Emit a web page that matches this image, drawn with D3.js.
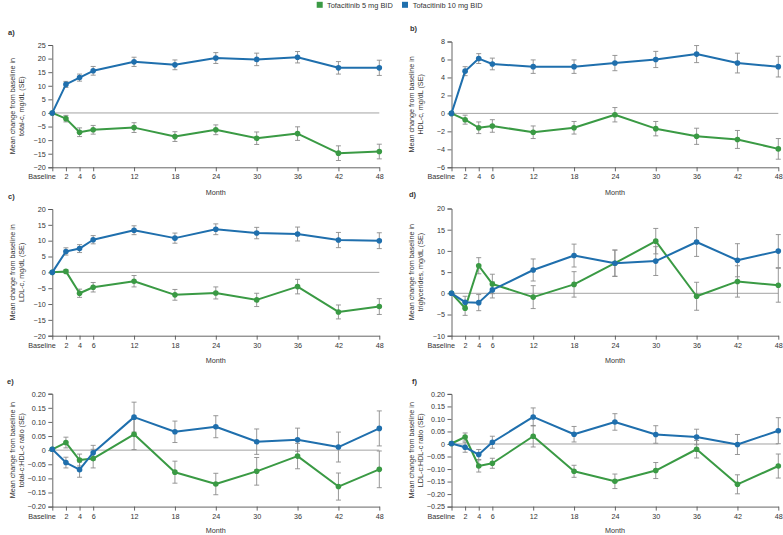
<!DOCTYPE html>
<html><head><meta charset="utf-8">
<script src="https://cdn.jsdelivr.net/npm/d3@7"></script>
<style>body{margin:0;background:#fff}svg{display:block}text{font-family:"Liberation Sans",Arial,sans-serif;fill:#333}</style>
</head><body><svg id="c" width="783" height="535"></svg>
<script>
const months = [0,2,4,6,12,18,24,30,36,42,48];
const monthLabels = ["Baseline","2","4","6","12","18","24","30","36","42","48"];
const seriesNames = ["Tofacitinib 5 mg BID","Tofacitinib 10 mg BID"];
const seriesColors = ["#3a9a44","#1f6fad"];

const totalC5 = [0,-2.1,-7.1,-6.2,-5.4,-8.7,-6.2,-9.3,-7.6,-14.8,-14.2];
const totalC5SE = [0,1.2,1.6,1.6,1.8,1.8,1.8,2.3,2.5,2.7,2.7];
const totalC10 = [0,10.5,13.0,15.5,18.8,17.7,20.2,19.7,20.5,16.6,16.6];
const totalC10SE = [0,1.1,1.3,1.6,1.7,1.8,2.0,2.3,2.1,2.3,2.8];

const hdl5 = [0,-0.7,-1.6,-1.4,-2.1,-1.6,-0.15,-1.7,-2.55,-2.9,-3.95];
const hdl5SE = [0,0.5,0.65,0.7,0.7,0.7,0.8,0.8,0.9,1.0,1.15];
const hdl10 = [0,4.7,6.1,5.5,5.2,5.2,5.6,6.0,6.6,5.6,5.2];
const hdl10SE = [0,0.5,0.55,0.65,0.75,0.75,0.85,0.9,0.95,1.1,1.15];

const ldl5 = [0,0.3,-6.6,-4.7,-2.8,-7.1,-6.5,-8.7,-4.5,-12.5,-10.8];
const ldl5SE = [0,0.5,1.3,1.5,1.8,1.7,1.9,2.1,2.3,2.2,2.5];
const ldl10 = [0,6.6,7.5,10.3,13.3,10.8,13.6,12.4,12.1,10.2,10.0];
const ldl10SE = [0,1.15,1.25,1.3,1.4,1.6,1.7,1.8,2.2,2.4,2.5];

const tg5 = [0,-3.5,6.5,2.2,-0.9,2.1,7.1,12.3,-0.7,2.8,1.9];
const tg5SE = [0,1.7,1.9,2.3,2.7,3.0,3.1,3.0,3.3,3.7,4.0];
const tg10 = [0,-2.1,-2.2,0.8,5.5,8.9,7.1,7.6,12.1,7.8,9.95];
const tg10SE = [0,1.4,1.9,1.9,2.6,2.7,3.1,3.4,3.4,3.9,3.9];

const tcHdl5 = [0.003,0.027,-0.035,-0.030,0.056,-0.078,-0.120,-0.075,-0.021,-0.129,-0.068];
const tcHdl5SE = [0,0.019,0.021,0.033,0.054,0.039,0.038,0.049,0.045,0.048,0.065];
const tcHdl10 = [0.003,-0.044,-0.069,-0.009,0.117,0.065,0.083,0.030,0.037,0.011,0.077];
const tcHdl10SE = [0,0.019,0.027,0.026,0.053,0.038,0.039,0.045,0.041,0.053,0.062];

const ldlHdl5 = [0.002,0.028,-0.088,-0.077,0.031,-0.109,-0.149,-0.106,-0.021,-0.161,-0.088];
const ldlHdl5SE = [0,0.016,0.024,0.020,0.043,0.024,0.029,0.032,0.035,0.038,0.048];
const ldlHdl10 = [0.002,-0.013,-0.042,0.007,0.108,0.039,0.088,0.038,0.028,-0.002,0.053];
const ldlHdl10SE = [0,0.020,0.020,0.024,0.036,0.031,0.033,0.035,0.031,0.040,0.052];

const ticksA = [-20,-15,-10,-5,0,5,10,15,20,25];
const ticksB = [-6,-4,-2,0,2,4,6,8];
const ticksC = [-20,-15,-10,-5,0,5,10,15,20];
const ticksD = [-10,-5,0,5,10,15,20];
const ticksE = [-0.2,-0.15,-0.1,-0.05,0,0.05,0.1,0.15,0.2];
const ticksF = [-0.25,-0.2,-0.15,-0.1,-0.05,0,0.05,0.1,0.15,0.2];

const panels = [
 {label:"a)", ytitle:"total-c, mg/dL (SE)", s:[[totalC5,totalC5SE],[totalC10,totalC10SE]], ticks:ticksA, dec:0, x0:52.3,x1:379.3,yT:45,yB:167.3, lx:8, ly:35, my:27.5},
 {label:"b)", ytitle:"HDL-c, mg/dL (SE)", s:[[hdl5,hdl5SE],[hdl10,hdl10SE]], ticks:ticksB, dec:0, x0:451.5,x1:778.3,yT:41.5,yB:167.3, lx:410, ly:31, my:27.5},
 {label:"c)", ytitle:"LDL-c, mg/dL (SE)", s:[[ldl5,ldl5SE],[ldl10,ldl10SE]], ticks:ticksC, dec:0, x0:52.3,x1:379.3,yT:209,yB:335.7, lx:8, ly:199, my:27},
 {label:"d)", ytitle:"triglycerides, mg/dL (SE)", s:[[tg5,tg5SE],[tg10,tg10SE]], ticks:ticksD, dec:0, x0:451.5,x1:778.3,yT:208.5,yB:335.7, lx:409, ly:196.5, my:27},
 {label:"e)", ytitle:"total-c:HDL-c ratio (SE)", s:[[tcHdl5,tcHdl5SE],[tcHdl10,tcHdl10SE]], ticks:ticksE, dec:2, x0:52.3,x1:379.3,yT:393.7,yB:506.6, lx:7, ly:384, my:26},
 {label:"f)", ytitle:"LDL-c:HDL-c ratio (SE)", s:[[ldlHdl5,ldlHdl5SE],[ldlHdl10,ldlHdl10SE]], ticks:ticksF, dec:2, x0:451.5,x1:778.3,yT:393.9,yB:506.6, lx:412, ly:383.5, my:26}
];

const svg = d3.select("#c");
const FS = 7.2;
const axisCol = "#555";

// legend
const leg = svg.append("g");
[[316.7,327],[402,412.7]].forEach((p,i)=>{
  leg.append("rect").attr("x",p[0]).attr("y",1.8).attr("width",6).attr("height",6).attr("fill",seriesColors[i]);
  leg.append("text").attr("x",p[1]).attr("y",7.6).attr("font-size",7.4).text(seriesNames[i]);
});

const fmt = (dec)=> (v)=> {
  if (Math.abs(v) < 1e-9) return "0";
  const s = d3.format("."+dec+"f")(Math.abs(v));
  return (v<0?"\u2212":"") + s;
};

panels.forEach(p=>{
  const g = svg.append("g");
  const x = d3.scaleLinear().domain([0,48]).range([p.x0,p.x1]);
  const y = d3.scaleLinear().domain([d3.min(p.ticks), d3.max(p.ticks)]).range([p.yB,p.yT]);

  g.append("text").attr("x",p.lx).attr("y",p.ly).attr("font-size",7.5).attr("font-weight","bold").text(p.label);

  const ya = g.append("g").attr("transform",`translate(${p.x0},0)`)
    .call(d3.axisLeft(y).tickValues(p.ticks).tickFormat(fmt(p.dec)).tickSize(4).tickPadding(2.5));
  ya.select(".domain").attr("stroke",axisCol).attr("stroke-width",0.9);
  ya.selectAll(".tick line").attr("stroke",axisCol).attr("stroke-width",0.9);
  ya.selectAll(".tick text").attr("font-size",FS).attr("fill","#333").attr("font-family",null);

  const xa = g.append("g").attr("transform",`translate(0,${p.yB})`)
    .call(d3.axisBottom(x).tickValues(months).tickFormat((d,i)=>monthLabels[i]).tickSize(4).tickSizeOuter(0).tickPadding(3));
  xa.select(".domain").attr("stroke",axisCol).attr("stroke-width",0.9);
  xa.selectAll(".tick line").attr("stroke",axisCol).attr("stroke-width",0.9);
  xa.selectAll(".tick text").attr("font-size",FS).attr("fill","#333").attr("font-family",null);
  xa.selectAll(".tick text").filter((d,i)=>i===0).attr("text-anchor","end").attr("dx",3);

  g.append("text").attr("x",(p.x0+p.x1)/2).attr("y",p.yB+p.my).attr("text-anchor","middle").attr("font-size",FS).text("Month");

  const cy = (p.yT+p.yB)/2;
  const t = g.append("text").attr("transform",`translate(${p.x0-37.5},${cy}) rotate(-90)`).attr("text-anchor","middle").attr("font-size",FS);
  t.append("tspan").attr("x",0).attr("y",0).text("Mean change from baseline in");
  t.append("tspan").attr("x",0).attr("y",9).text(p.ytitle);

  g.append("line").attr("x1",x(0)).attr("x2",x(48)).attr("y1",y(0)).attr("y2",y(0)).attr("stroke","#999").attr("stroke-width",0.9);

  p.s.forEach((sv)=>{
    const [vals,se] = sv;
    months.forEach((m,i)=>{
      if (se[i] <= 0) return;
      const eg = g.append("g").attr("stroke","#8c8c8c").attr("stroke-width",0.9);
      eg.append("line").attr("x1",x(m)).attr("x2",x(m)).attr("y1",y(vals[i]-se[i])).attr("y2",y(vals[i]+se[i]));
      eg.append("line").attr("x1",x(m)-2.5).attr("x2",x(m)+2.5).attr("y1",y(vals[i]-se[i])).attr("y2",y(vals[i]-se[i]));
      eg.append("line").attr("x1",x(m)-2.5).attr("x2",x(m)+2.5).attr("y1",y(vals[i]+se[i])).attr("y2",y(vals[i]+se[i]));
    });
  });

  p.s.forEach((sv,k)=>{
    const vals = sv[0];
    const line = d3.line().x((d,i)=>x(months[i])).y(d=>y(d));
    g.append("path").datum(vals).attr("d",line).attr("fill","none").attr("stroke",seriesColors[k]).attr("stroke-width",2).attr("stroke-linejoin","round");
    g.selectAll(null).data(vals).enter().append("circle")
      .attr("cx",(d,i)=>x(months[i])).attr("cy",d=>y(d)).attr("r",2.8).attr("fill",seriesColors[k]);
  });
});
</script></body></html>
